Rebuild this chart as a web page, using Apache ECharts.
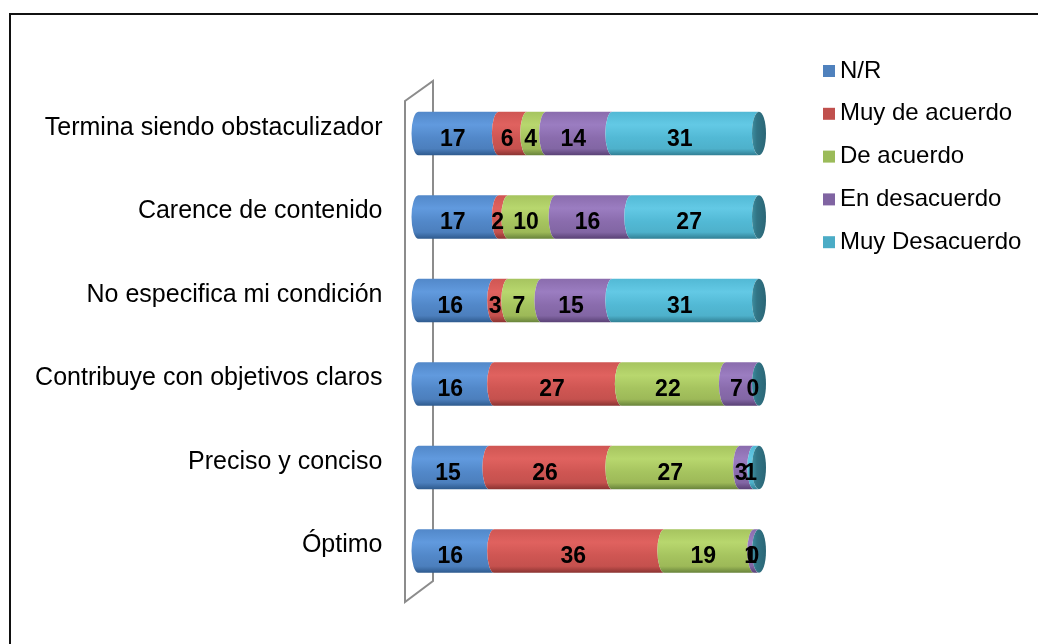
<!DOCTYPE html>
<html>
<head>
<meta charset="utf-8">
<script src="https://cdn.jsdelivr.net/npm/echarts@6/dist/echarts.min.js"></script>
<style>
  html, body { margin: 0; padding: 0; background: #fff; }
  #chart { width: 1038px; height: 644px; }
</style>
</head>
<body>
<div id="chart"></div>
<script>
// Survey answers per statement (counts)
const categorias = [
  'Termina siendo obstaculizador',
  'Carence de contenido',
  'No especifica mi condición',
  'Contribuye con objetivos claros',
  'Preciso y conciso',
  'Óptimo'
];
const nombresSerie = ['N/R', 'Muy de acuerdo', 'De acuerdo', 'En desacuerdo', 'Muy Desacuerdo'];
const nr            = [17, 17, 16, 16, 15, 16];
const muyDeAcuerdo  = [6, 2, 3, 27, 26, 36];
const deAcuerdo     = [4, 10, 7, 22, 27, 19];
const enDesacuerdo  = [14, 16, 15, 7, 3, 1];
const muyDesacuerdo = [31, 27, 31, 0, 1, 0];
const valores = [nr, muyDeAcuerdo, deAcuerdo, enDesacuerdo, muyDesacuerdo];

// flat colour (legend) plus shading tones for the cylinder look
const paleta = [
  { flat: '#4F81BD', top: '#5288c9', light: '#619ade', mid: '#4c7fbd', dark: '#2e5a8e' },
  { flat: '#C0504D', top: '#cf5653', light: '#e0625f', mid: '#c5514e', dark: '#8a3331' },
  { flat: '#9BBB59', top: '#a6c45f', light: '#b8d76e', mid: '#9db958', dark: '#68833b' },
  { flat: '#8064A2', top: '#8a6cad', light: '#9b7dc1', mid: '#8266a4', dark: '#594175' },
  { flat: '#4BACC6', top: '#52b9d5', light: '#63c9e5', mid: '#4eb1cb', dark: '#317f94' }
];

const FONT = '"Liberation Sans", Arial, sans-serif';
const TOTAL = 72;

function gradiente(p) {
  return new echarts.graphic.LinearGradient(0, 0, 0, 1, [
    { offset: 0, color: p.top },
    { offset: 0.3, color: p.light },
    { offset: 0.6, color: p.top },
    { offset: 0.85, color: p.mid },
    { offset: 1, color: p.dark }
  ]);
}

function hacerSerie(idx) {
  const datos = categorias.map((c, j) => {
    let inicio = 0;
    for (let k = 0; k < idx; k++) inicio += valores[k][j];
    const v = valores[idx][j];
    return [inicio, inicio + v, j, v];
  });
  const p = paleta[idx];
  const ultima = idx === valores.length - 1;
  return {
    name: nombresSerie[idx],
    type: 'custom',
    silent: true,
    itemStyle: { color: p.flat },
    encode: { x: [0, 1], y: 2 },
    data: datos,
    renderItem: function (params, api) {
      const s = api.value(0), e = api.value(1), ci = api.value(2), v = api.value(3);
      const a = api.coord([s, ci]);
      const b = api.coord([e, ci]);
      const bh = api.size([0, 1])[1] * 0.521;
      const y0 = a[1] - bh / 2, y1 = a[1] + bh / 2;
      const off = 6, rx = 7, ry = bh / 2;
      const xL = a[0] + off, xR = b[0] + off;
      const children = [];
      if (xR > xL) {
        children.push({
          type: 'path',
          z2: 1,
          shape: {
            pathData: 'M' + xL + ',' + y0 + ' L' + xR + ',' + y0 +
              ' A' + rx + ',' + ry + ' 0 0 0 ' + xR + ',' + y1 +
              ' L' + xL + ',' + y1 +
              ' A' + rx + ',' + ry + ' 0 0 1 ' + xL + ',' + y0 + ' Z'
          },
          style: { fill: gradiente(p) }
        });
      }
      if (ultima) {
        // visible end face of the cylinder
        children.push({
          type: 'ellipse',
          z2: 2,
          shape: { cx: xR, cy: a[1], rx: rx, ry: ry },
          style: {
            fill: new echarts.graphic.LinearGradient(0, 0, 1, 0, [
              { offset: 0, color: '#3d8ea0' },
              { offset: 0.35, color: '#317485' },
              { offset: 1, color: '#2b6676' }
            ])
          }
        });
      }
      children.push({
        type: 'text',
        z2: 100,
        style: {
          text: String(v),
          x: (a[0] + b[0]) / 2,
          y: a[1] + 6,
          align: 'center',
          verticalAlign: 'middle',
          font: 'bold 23px ' + FONT,
          fill: '#000'
        }
      });
      return { type: 'group', children: children };
    }
  };
}

const chart = echarts.init(document.getElementById('chart'), null, { renderer: 'canvas' });
chart.setOption({
  animation: false,
  backgroundColor: '#fff',
  grid: { left: 412.5, width: 340.5, top: 91.75, height: 501, outerBoundsMode: 'none' },
  xAxis: { type: 'value', min: 0, max: TOTAL, show: false },
  yAxis: {
    type: 'category',
    inverse: true,
    data: categorias,
    axisLine: { show: false },
    axisTick: { show: false },
    splitLine: { show: false },
    axisLabel: {
      margin: 30,
      fontSize: 25,
      fontFamily: FONT,
      color: '#000',
      verticalAlign: 'bottom',
      lineHeight: 11
    }
  },
  legend: {
    orient: 'vertical',
    left: 818,
    top: 54,
    itemWidth: 12,
    itemHeight: 12,
    itemGap: 18.8,
    icon: 'rect',
    data: nombresSerie,
    textStyle: { fontSize: 24, fontFamily: FONT, color: '#000' }
  },
  graphic: [
    {
      type: 'rect',
      z: -10,
      shape: { x: 10, y: 14, width: 1100, height: 700 },
      style: { fill: null, stroke: '#111', lineWidth: 2 }
    },
    {
      type: 'polygon',
      z: -5,
      shape: { points: [[405, 101], [433, 81], [433, 581], [405, 602]] },
      style: { fill: null, stroke: '#8c8c8c', lineWidth: 2 }
    }
  ],
  series: valores.map((_, i) => hacerSerie(i))
});
</script>
</body>
</html>
